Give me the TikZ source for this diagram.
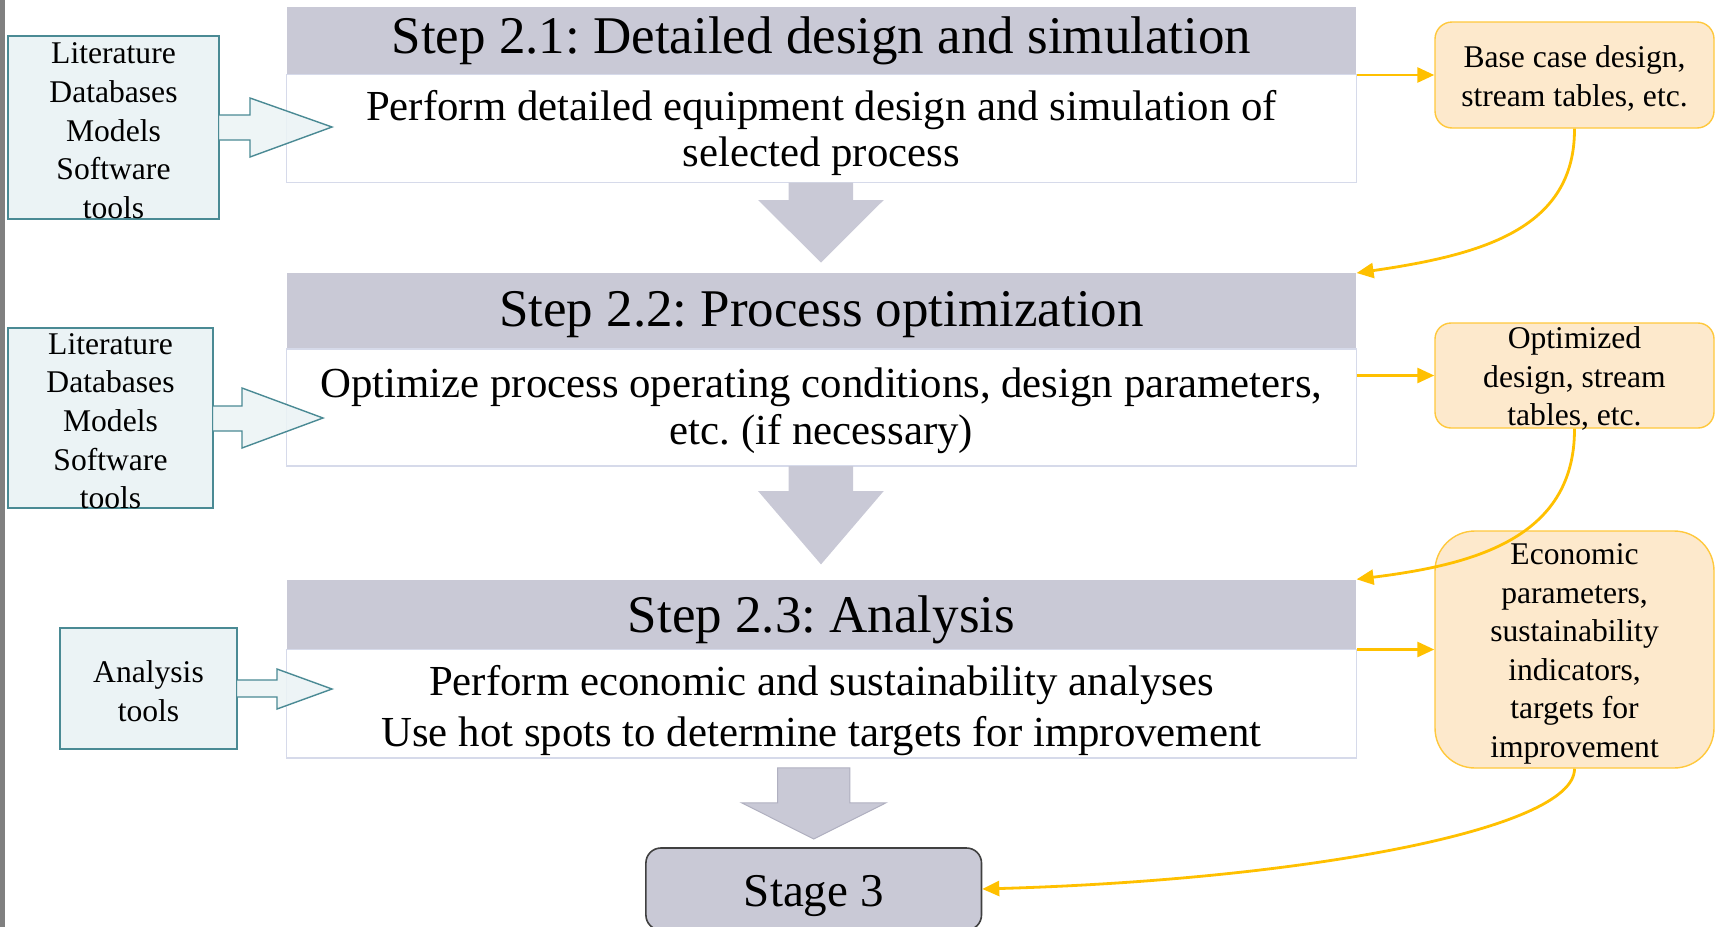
\documentclass[tikz,border=0pt]{standalone}
\usepackage{fontspec}
\setmainfont{Liberation Serif}
\frenchspacing
\usetikzlibrary{arrows.meta}
\definecolor{headfill}{RGB}{201,201,214}
\definecolor{bodyline}{RGB}{214,218,234}
\definecolor{srcfill}{RGB}{235,243,245}
\definecolor{srcline}{RGB}{74,138,148}
\definecolor{outfill}{RGB}{253,233,204}
\definecolor{outline}{RGB}{255,200,60}
\definecolor{gold}{RGB}{255,192,0}
\definecolor{stageline}{RGB}{64,64,64}
\definecolor{flowline}{RGB}{176,176,192}
\tikzset{
  stephead/.style={fill=headfill, draw=none, minimum width=534.8pt, inner sep=0pt},
  stepbody/.style={fill=white, draw=bodyline, line width=0.6pt, minimum width=534.8pt, inner sep=0pt},
  titletext/.style={inner sep=0pt, font=\fontsize{26.5}{30}\selectfont},
  bodytext/.style={inner sep=0pt, align=center, font=\fontsize{21.4}{23.2}\selectfont},
  srcbox/.style={fill=srcfill, draw=srcline, line width=0.7pt, inner sep=0pt},
  sidetext/.style={inner sep=0pt, align=center, font=\fontsize{15.8}{19.3}\selectfont},
  srcarrow/.style={fill=srcfill, fill opacity=0.85, draw=srcline, line width=0.7pt, line join=miter},
  outbox/.style={fill=outfill, draw=outline, line width=0.7pt, inner sep=0pt, minimum width=139.5pt},
  feed/.style={draw=gold, line width=1.4pt, -{Triangle[length=8.5pt,width=7.5pt]}},
  flowarrow/.style={fill=headfill, draw=none},
  stagebox/.style={fill=headfill, draw=stageline, line width=0.8pt, rounded corners=7.5pt,
    minimum width=167.8pt, minimum height=41pt, inner sep=0pt},
  stagetext/.style={inner sep=0pt, font=\fontsize{23.5}{26}\selectfont}
}
\begin{document}
\begin{tikzpicture}[x=0.5pt,y=-0.5pt]
\useasboundingbox (0,0) rectangle (1715,927);
\clip (0,0) rectangle (1715,927);
% page edge strip
\fill[gray] (0,0) rectangle (5,927);

% step boxes
\node[stephead, minimum height=33.9pt] (h1) at (821.4,40.5) {};
\node[stepbody, minimum height=54.15pt] (b1) at (821.4,128.55) {};
\node[stephead, minimum height=37.75pt] (h2) at (821.4,311.15) {};
\node[stepbody, minimum height=58.55pt] (b2) at (821.4,407.45) {};
\node[stephead, minimum height=35pt] (h3) at (821.4,614.7) {};
\node[stepbody, minimum height=54.15pt] (b3) at (821.4,703.85) {};
\node[stagebox] (st) at (813.7,889) {};

\node[titletext] (h1t) at ([yshift=-0.4pt]h1.center) {Step 2.1: Detailed design and simulation};
\node[bodytext] (b1t) at ([yshift=-2.2pt]b1.center) {Perform detailed equipment design and simulation of\\selected process};
\node[titletext] (h2t) at ([yshift=-1.6pt]h2.center) {Step 2.2: Process optimization};
\node[bodytext, font=\fontsize{21.4}{23.6}\selectfont] (b2t) at ([yshift=-1.7pt]b2.center) {Optimize process operating conditions, design parameters,\\etc. (if necessary)};
\node[titletext] (h3t) at ([yshift=-2.7pt]h3.center) {Step 2.3: Analysis};
\node[bodytext, font=\fontsize{21.4}{25.5}\selectfont] (b3t) at ([yshift=-3.2pt]b3.center) {Perform economic and sustainability analyses\\Use hot spots to determine targets for improvement};
\node[stagetext] (stt) at ([yshift=-3.6pt]st.center) {Stage 3};

% flow arrows between the steps
\fill[flowarrow] (788.6,182.7) -- (788.6,200) -- (758,200) -- (821,262.5) -- (883.75,200) -- (853.1,200) -- (853.1,182.7) -- cycle;
\fill[flowarrow] (788.6,466) -- (788.6,491) -- (758,491) -- (821,564.4) -- (883.75,491) -- (853.1,491) -- (853.1,466) -- cycle;
\filldraw[fill=headfill, draw=flowline, line width=0.5pt] (777.7,767.8) -- (777.7,802.8) -- (741.6,802.8) -- (813.7,839) -- (886,802.8) -- (849.8,802.8) -- (849.8,767.8) -- cycle;

% inputs
\node[srcbox, minimum width=105.5pt, minimum height=91.5pt] (s1) at (113.5,127.5) {};
\node[srcbox, minimum width=102.5pt, minimum height=90pt] (s2) at (110.5,418) {};
\node[srcbox, minimum width=88.5pt, minimum height=60.5pt] (s3) at (148.5,688.5) {};
\node[sidetext] (s1t) at ([yshift=-1.6pt]s1.center) {Literature\\Databases\\Models\\Software\\tools};
\node[sidetext] (s2t) at ([yshift=-1.6pt]s2.center) {Literature\\Databases\\Models\\Software\\tools};
\node[sidetext] (s3t) at ([yshift=-1.4pt]s3.center) {Analysis\\tools};
\path[srcarrow] (219,115) -- (250,115) -- (250,98) -- (332,127) -- (250,157) -- (250,140) -- (219,140);
\path[srcarrow] (213,406) -- (242,406) -- (242,388) -- (323,418) -- (242,448) -- (242,431) -- (213,431);
\path[srcarrow] (237,680) -- (277,680) -- (277,669) -- (332,689) -- (277,709) -- (277,697) -- (237,697);

% outputs
\node[outbox, minimum height=53pt, rounded corners=8.5pt] (o1) at (1574.5,75) {};
\node[outbox, minimum height=52.5pt, rounded corners=8pt] (o2) at (1574.5,375.5) {};
\node[outbox, minimum height=118.5pt, rounded corners=20pt] (o3) at (1574.5,649.5) {};
\node[sidetext] (o1t) at ([yshift=-1.6pt]o1.center) {Base case design,\\stream tables, etc.};
\node[sidetext] (o2t) at ([yshift=-1.6pt]o2.center) {Optimized\\design, stream\\tables, etc.};
\node[sidetext] (o3t) at ([yshift=-2.2pt]o3.center) {Economic\\parameters,\\sustainability\\indicators,\\targets for\\improvement};

\draw[feed] (o1.west -| b1.east) -- (o1.west);
\draw[feed] (o2.west -| b2.east) -- (o2.west);
\draw[feed] (o3.west -| b3.east) -- (o3.west);

% feedback to the next step
\draw[feed] (o1.south) .. controls (1575,230) and (1480,255) .. (h2.north east);
\draw[feed] (o2.south) .. controls (1575,540) and (1470,565) .. (h3.north east);
\draw[feed] (o3.south) .. controls (1575,830) and (1300,880) .. (st.east);
\end{tikzpicture}
\end{document}
